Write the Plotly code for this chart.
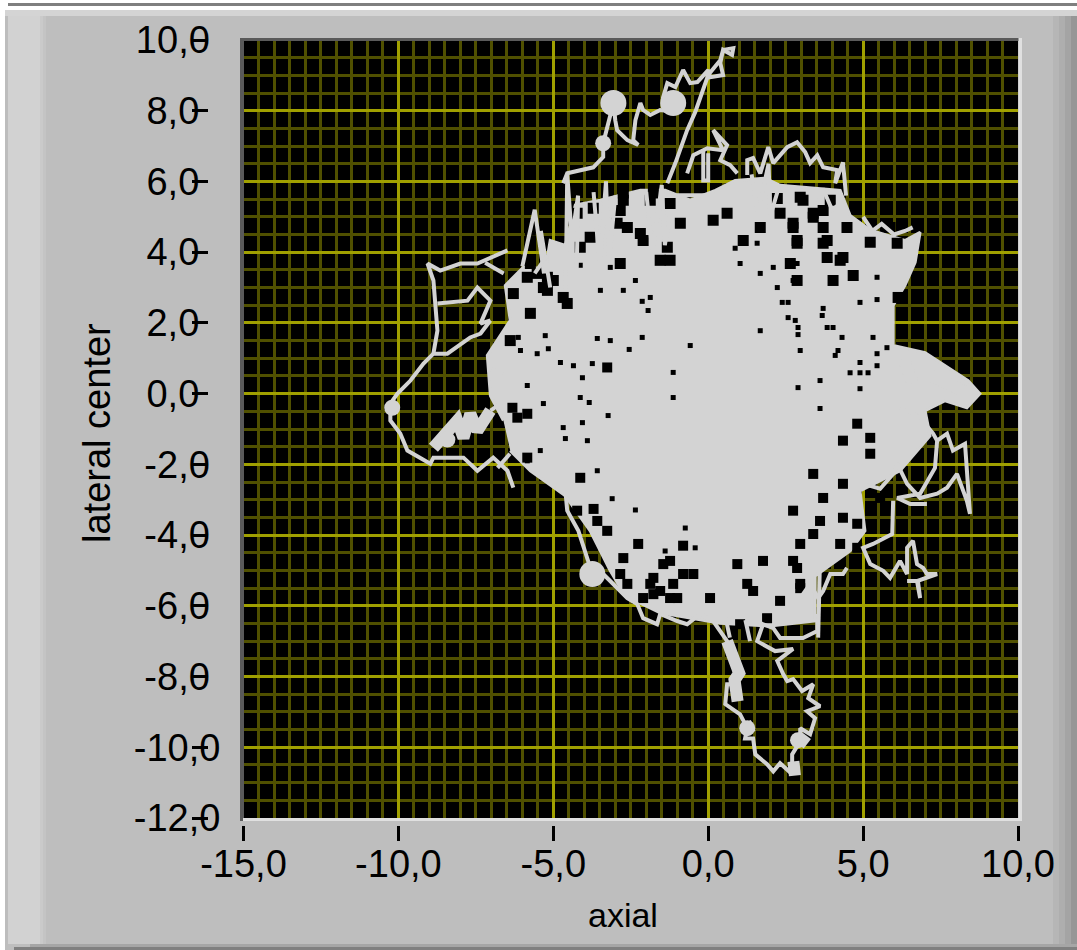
import plotly.graph_objects as go

W, H = 1077, 950

x_tick_vals = [-15, -10, -5, 0, 5, 10]
x_tick_text = ["-15,0", "-10,0", "-5,0", "0,0", "5,0", "10,0"]
y_tick_vals = [10, 8, 6, 4, 2, 0, -2, -4, -6, -8, -10, -12]
NB = "\u00a0"
y_tick_text = ["10,0" + NB, "8,0" + NB + NB, "6,0" + NB + NB, "4,0" + NB + NB, "2,0" + NB + NB, "0,0" + NB + NB,
               "-2,0" + NB, "-4,0" + NB, "-6,0" + NB, "-8,0" + NB, "-10,0", "-12,0"]

# Outline of the region the trace covers almost entirely
cloud_x = [-6.61, -7.03, -7.13, -6.71, -6.39, -6.55, -5.9, -5.26, -5.1, -4.61, -4.29, -3.48, -2.19, -1.39, -0.58, 0.23, 0.87, 1.84,
           2.32, 4.26, 4.58, 5.23, 6.35, 6.84, 6.68, 6.35, 5.97, 5.97, 7.0, 8.39, 8.77, 8.35, 7.65, 7.0, 7.16, 6.19, 5.55, 4.9,
           5.06, 4.58, 3.45, 3.45, 2.0, 0.39, -1.55, -2.68, -3.16, -3.81, -4.61, -5.74, -6.39]
cloud_y = [-0.76, -0.06, 1.08, 1.64, 2.07, 3.06, 3.63, 3.48, 4.33, 4.19, 5.33, 5.47, 5.75, 5.75, 5.47, 5.75, 6.03, 6.09,
           5.89, 5.75, 5.04, 4.62, 4.33, 4.56, 3.71, 3.06, 2.49, 1.36, 1.16, 0.37, 0.0, -0.4, -0.2, -0.48, -1.19, -2.18, -2.46, -2.75,
           -3.88, -4.45, -5.16, -6.43, -6.57, -6.49, -6.2, -5.72, -5.01, -3.88, -2.89, -2.18, -1.61]

# Traced excursions
left_x = [-6.29, -6.48, -6.94, -7.45, -7.9, -8.87, -8.97, -9.71, -9.94, -10.26, -10.26, -10.03, -9.61, -9.19, -8.87,
          -8.42, -7.68, -7.35, -7.03, None, -8.87, -8.74, -8.87, -9.06, -8.65, -8.0, -7.45, -6.48, None, -8.74, -7.77,
          -7.45, -7.03, -7.35, -7.03, None, -7.03, -6.55]
left_y = [-2.66, -2.18, -1.81, -2.18, -1.81, -1.81, -1.98, -1.61, -1.13, -0.76, -0.28, 0.0, 0.37, 0.85, 1.13,
          1.13, 1.59, 1.7, 2.07, None, 1.13, 1.78, 3.2, 3.68, 3.48, 3.68, 3.68, 4.05, None, 2.55, 2.63,
          3.0, 2.63, 1.98, 2.07, None, -0.48, -0.2]

top_x = [-1.32, -1.06, -0.68, -0.42, 0.0, 0.39, 0.48, 0.81, 0.77, 0.48, 0.39, 0.48, 0.06, 0.0, -0.35, -0.58, -0.81,
         -1.06, -1.32, -1.45, -1.13, -0.97, -1.55, -1.87, -2.1, -2.19, -2.35, -2.42, -2.26, -2.61, -2.94, -3.0, -3.06,
         -3.39, -3.39, -3.71, -4.55, -4.68]
top_y = [5.95, 6.52, 7.45, 7.96, 9.01, 9.43, 9.72, 9.77, 9.58, 9.72, 9.35, 9.01, 8.95, 9.15, 8.81, 8.78, 9.15,
         8.67, 8.78, 8.39, 8.22, 7.96, 8.02, 7.88, 8.02, 8.22, 7.73, 7.17, 7.03, 7.17, 7.45, 7.73, 8.22,
         7.08, 6.69, 6.4, 6.23, 5.95]

loop_x = [-0.68, -0.48, -0.03, 0.48, 0.16, 0.61, 0.39, 0.71, 0.94, None, -0.16, -0.16, 0.0, 0.0, None, -1.0, 0.06]
loop_y = [6.23, 6.74, 6.94, 6.88, 7.45, 7.03, 6.6, 6.46, 6.23, None, 6.88, 6.03, 6.03, 6.8, None, 5.61, 5.61]

ridge_x = [1.26, 1.26, 1.45, 1.68, 1.94, 2.1, 2.55, 2.87, 3.13, 3.29, 3.52, 3.71, 4.16, 4.1, 4.35, 4.42, 4.45]
ridge_y = [6.18, 6.6, 6.66, 6.23, 6.97, 6.52, 6.97, 7.11, 6.83, 6.52, 6.74, 6.4, 6.32, 5.95, 6.54, 6.03, 5.6]

lower_right_x = [5.0, 5.0, 5.55, 5.97, 6.1, 6.42, 6.84, 7.39, 7.71, 8.03, 8.35, 8.45, 8.29, 7.9, 7.71, 7.39, 7.32, 6.84,
                 6.1, 6.52, 7.06, None, 6.2, 6.84, 7.26, 7.39, None, 5.97, 5.94, 5.32, 5.0, 5.23, 5.65, 5.87, 6.19, 6.42,
                 6.42, 6.61, 6.74, 6.94, 7.06, 7.39, 6.74, 6.84, 6.77, 6.42, None, 4.48, 4.35, 3.94, 3.71, 3.55, 3.29, 2.97]
lower_right_y = [-1.9, -2.55, -2.69, -2.27, -1.98, -2.55, -2.95, -2.83, -2.66, -2.27, -3.03, -3.4, -1.42, -1.61, -1.13, -1.33, -2.1, -2.83,
                 -2.95, -3.12, -3.12, None, -0.4, -0.68, -1.13, -1.33, None, -3.03, -3.97, -4.25, -4.36, -4.82, -5.01, -5.21, -4.73, -5.1,
                 -4.36, -4.16, -4.82, -4.93, -5.1, -5.1, -5.3, -5.78, -5.3, -5.3, None, -4.93, -5.1, -5.1, -5.58, -5.78, -5.38, -5.78]

spine_x = [-4.61, -4.55, -4.19, -3.97, -3.74, -3.39, -2.94, -2.61, -2.29, -2.1, -1.65, -1.55, -1.0, -0.68, -0.26, 0.16, 0.61, 0.81,
           0.94, 0.61, 0.55, 1.03, 1.26, 1.19, 1.45, 1.52, 1.9, 2.1, 2.32, 2.71, 2.71, 2.97, 2.97, 3.29, 3.45, 3.19, 3.61, 3.23,
           3.39, 3.03, 2.74, 2.55, 2.42, 2.23, 2.74, 2.16, 1.58, 1.77, 2.1, 2.32, 3.06, 3.52, 3.52]
spine_y = [-2.75, -3.31, -3.88, -4.45, -5.1, -5.1, -5.5, -5.78, -5.95, -6.35, -6.52, -6.23, -6.43, -6.52, -6.23, -6.43, -7.0, -7.65,
           -8.22, -8.22, -8.78, -9.07, -9.46, -9.75, -9.75, -10.2, -10.48, -10.68, -10.45, -10.76, -10.2, -9.83, -9.46, -9.63, -9.18, -8.98, -8.84, -8.61,
           -8.22, -8.41, -8.07, -8.13, -7.93, -7.56, -7.22, -7.28, -7.0, -6.52, -6.63, -6.91, -6.91, -6.71, -6.23]

# Spikes that stand out of the covered region
spikes_x = [-6.0, -5.6, -5.3, -5.4, -5.1, None, -4.6, -4.55, -4.4, -4.2, -4.25, None, -3.7, -3.5, -3.3, -3.2, -3.0, None,
            -2.0, -1.8, -1.5, -1.4, -1.2, None, 1.4, 1.6, 1.95, 2.0, 2.3, None, 3.55, 3.7, 4.0, 4.3, None,
            3.6, 3.55, None, 1.2, 1.35, None, 0.55, 0.7, None, 5.0, 5.3, 5.6, 6.0, 6.35, 6.6, None,
            -7.2, -6.6, None, -7.0, -6.6, None, -5.6, -5.2, None, -6.8, -6.4]
spikes_y = [3.6, 5.2, 3.4, 4.6, 3.0, None, 2.9, 6.2, 4.4, 5.6, 3.2, None, 5.7, 3.6, 6.0, 3.7, 5.6, None,
            5.7, 4.0, 5.9, 4.2, 5.2, None, 6.2, 5.1, 6.5, 5.0, 5.9, None, 5.4, 5.8, 5.2, 5.4, None,
            -5.0, -6.9, None, -6.4, -7.0, None, -6.3, -6.9, None, 5.0, 4.6, 4.8, 4.5, 4.6, 4.7, None,
            3.7, 3.4, None, 0.7, 0.6, None, 3.4, 3.9, None, -2.1, -1.7]

# Heavily overplotted stretches
heavy_x = [-8.87, -8.1, -7.9, -7.68, -7.45, -7.03, None, 0.61, 1.0, 0.85, 0.95, None, 1.2, 1.35, None, 2.75, 2.8,
           None, 2.9, 3.2, None, 7.2, 8.3, None, 6.3, 6.6]
heavy_y = [-1.53, -0.76, -1.25, -0.57, -1.05, -0.48, None, -7.0, -7.9, -8.1, -8.7, None, -9.3, -9.6, None, -10.4, -10.8,
           None, -9.7, -9.9, None, 0.5, 0.05, None, 1.0, 0.3]

blob_big_x = [-3.74, -3.06, -1.13]
blob_big_y = [-5.1, 8.22, 8.22]
blob_mid_x = [-3.39, 2.9, 1.26, -10.2, -8.42]
blob_mid_y = [7.08, -9.8, -9.46, -0.4, -1.3]

# Gaps left by the trace in the centre
gap_small_x = [-1.13, -1.13, -2.13, -2.55, -3.74, -4.35, -4.77, -5.52, -4.06, -3.84, -4.13, -4.06, -3.23, -3.9, -4.61, -4.68, -5.32, -5.84,
               -5.42, -5.84, -3.58, -5.16, -5.26, -6.13, -6.06, -3.58, -3.16, -1.94, -2.35, -1.87, -2.13, -2.74, -3.16, -3.48, -4.13,
               3.71, 3.68, 2.9, 2.9, 2.58, 3.84, 4.03, 4.32, 4.9, 5.45, 5.45, 2.39, 2.58, 5.32, 5.77, 4.19, 4.1, 5.45, 4.9, 4.9, 4.58,
               5.16, 5.45, 3.61, 2.9, 3.61, 4.9, 2.23, 2.74, 1.03, 1.68, 2.1, 2.87, 0.87, 1.58, 1.68, -0.58, 2.81, 2.97,
               -3.1, -2.35, -0.74, -0.42, -1.39]
gap_small_y = [0.6, -0.11, 1.59, 1.25, 0.85, 0.79, 0.88, 1.13, 0.45, -0.25, -0.11, -0.82, -0.62, -1.33, -1.27, -0.96, -0.28, 0.23,
               -1.61, -1.9, -2.18, 1.27, 1.64, 1.59, 1.22, 1.56, 1.5, 2.35, 3.2, 2.72, 2.61, 2.92, 3.57, 2.92, 3.63,
               2.41, 2.21, 1.87, 1.67, 2.15, 1.87, 1.87, 1.59, 2.58, 2.66, 3.29, 2.58, 2.58, 1.59, 1.3, 1.22, 1.08, 1.13, 0.88, 0.59, 0.59,
               0.59, 0.79, 0.37, 0.17, -0.42, 0.14, 3.0, 3.2, 3.68, 3.4, 3.57, 3.68, 4.11, 4.25, 1.78, 1.36, 2.07, 1.22,
               -2.97, -3.29, -3.8, -4.36, -4.45]

# Wider gaps in the fringe
gap_top_x = [-3.71, -4.23, -2.74, -1.87, -2.19, -1.23, -1.32, -3.81, -2.94, 2.23, 3.06, 3.71, 2.74, 3.39, 3.84, 4.48, 2.87, 4.35, 3.84, 2.32,
             1.13, 1.68, 0.61, 0.16, -4.45, -4.13, -2.84, -1.55, -1.23, -4.23, -2.84, -2.61, -2.1, -0.9, -1.77, -2.74,
             -5.74, -5.74, -5.19, -5.19, -5.84, -4.68, -5.32, -6.29, -5.74, -5.0, -5.52, -4.55, -6.39, -5.97,
             2.74, 3.71, 4.26, 4.68, 2.65, 2.87, 3.71, 5.23, 6.1, 5.87, 3.39, 2.97, 3.94, 4.03, 2.87, 6.13]
gap_top_y = [5.24, 5.75, 5.47, 5.47, 4.53, 5.38, 4.14, 4.42, 4.82, 5.52, 5.47, 5.18, 4.82, 4.99, 4.33, 4.7, 4.25, 3.85, 3.85, 5.1,
             4.33, 4.7, 5.1, 4.9, 4.9, 4.14, 3.68, 3.77, 3.77, 5.1, 5.18, 4.7, 4.33, 4.82, 5.67, 5.67,
             4.62, 3.68, 3.29, 2.92, 3.29, 2.72, 3.0, 2.83, 2.27, 3.2, 3.4, 2.55, 1.5, 3.77,
             4.7, 4.7, 3.77, 3.34, 3.68, 4.33, 4.25, 4.28, 4.25, 4.7, 5.1, 5.55, 5.47, 3.2, 3.2, 2.72]
gap_bottom_x = [-5.84, -5.84, -6.16, -6.32, 3.39, 4.35, 4.81, 5.23, 5.23, 4.35, 5.55, 4.81, 4.35, 3.71, 2.74, 3.39, 4.81, 4.26, 2.97, 3.61,
                2.97, 2.87, -1.23, -0.81, -1.55, -2.1, -1.0, 0.06, 0.94, 1.26, 1.77, 1.45, 2.74, 2.97, 1.9, 2.32, 1.03, -2.61, -1.87,
                -4.23, -2.26, -2.74, -1.77, -1.23, -1.77, -0.48, -1.45, -2.84, -1.13, -3.26, -3.58, -3.26, -4.13, -3.7, -0.81]
gap_bottom_y = [-0.57, -1.81, -0.68, -0.4, -2.27, -2.55, -0.85, -1.7, -1.25, -1.33, -2.95, -3.68, -3.51, -2.95, -3.31, -3.97, -4.36, -4.25, -4.25, -3.6,
                -5.5, -4.93, -4.73, -5.1, -5.58, -5.78, -5.78, -5.78, -4.82, -5.38, -4.73, -5.58, -4.73, -5.38, -6.35, -5.86, -6.52, -5.38, -5.38,
                -3.31, -4.25, -4.65, -5.21, -5.78, -5.67, -5.1, -4.82, -5.1, -5.38, -3.88, -3.6, 0.74, -2.38, -3.26, -4.3]

CLOUD = "#d3d3d3"
fig = go.Figure()


def stroke(xs, ys, name, width=4):
    fig.add_trace(go.Scatter(x=xs, y=ys, mode="lines", name=name, line=dict(color=CLOUD, width=width),
                             hoverinfo="skip", showlegend=False, connectgaps=False))


fig.add_trace(go.Scatter(x=cloud_x, y=cloud_y, mode="lines", fill="toself", fillcolor=CLOUD, name="cloud",
                         line=dict(color=CLOUD, width=3), hoverinfo="skip", showlegend=False))
fig.add_trace(go.Scatter(x=gap_top_x, y=gap_top_y, mode="markers", marker=dict(color="black", size=11, symbol="square"), hoverinfo="skip", showlegend=False))
fig.add_trace(go.Scatter(x=gap_bottom_x, y=gap_bottom_y, mode="markers", marker=dict(color="black", size=10, symbol="square"), hoverinfo="skip", showlegend=False))
fig.add_trace(go.Scatter(x=gap_small_x, y=gap_small_y, mode="markers", marker=dict(color="black", size=5, symbol="square"), hoverinfo="skip", showlegend=False))
for xs, ys, nm in [(left_x, left_y, "left"), (top_x, top_y, "top"), (loop_x, loop_y, "loop"), (ridge_x, ridge_y, "ridge"),
                   (lower_right_x, lower_right_y, "lower right"), (spine_x, spine_y, "spine"), (spikes_x, spikes_y, "spikes")]:
    stroke(xs, ys, nm, 4)
stroke(heavy_x, heavy_y, "heavy", 12)
fig.add_trace(go.Scatter(x=blob_big_x, y=blob_big_y, mode="markers", marker=dict(color=CLOUD, size=26), hoverinfo="skip", showlegend=False))
fig.add_trace(go.Scatter(x=blob_mid_x, y=blob_mid_y, mode="markers", marker=dict(color=CLOUD, size=16), hoverinfo="skip", showlegend=False))


def rect(x0, y0, x1, y1, color, layer="below"):
    return dict(type="rect", xref="paper", yref="paper", x0=x0 / W, x1=x1 / W, y0=1 - y0 / H, y1=1 - y1 / H,
                fillcolor=color, line_width=0, layer=layer)


shapes = [
    rect(0, 0, W, 10, "#ffffff"),
    rect(8, 3, W, 6, "#7f7f7f"),
    rect(0, 10, 5, H, "#ffffff"),
    rect(5, 10, W, 16, "#d4d4d4"),
    rect(5, 16, 8, H, "#bdbdbd"),
    rect(8, 16, 40, 944, "#d2d2d2"),
    rect(40, 16, 43, 944, "#cacaca"),
    rect(43, 16, 46, 944, "#c4c4c4"),
    rect(1053, 16, 1059, 944, "#b6b6b6"),
    rect(1059, 16, 1065, 944, "#aeaeae"),
    rect(1065, 16, 1071, 944, "#a4a4a4"),
    rect(1071, 16, W, 944, "#969696"),
    rect(30, 944, W, 947, "#a6a6a6"),
    rect(14, 947, W, H, "#808080"),
    rect(240, 38, 244, 821, "#5a5a5a", "above"),
    rect(240, 38, 1022, 41, "#5a5a5a", "above"),
    rect(1018.5, 38, 1022, 821, "#e0e0e0", "above"),
    rect(243, 818, 1022, 821, "#e0e0e0", "above"),
]

LABEL = dict(family="Liberation Sans", size=38, color="black")
fig.update_layout(
    width=W, height=H, margin=dict(l=0, r=0, t=0, b=0, pad=0), autosize=False,
    paper_bgcolor="#bebebe", plot_bgcolor="black", showlegend=False, shapes=shapes,
    xaxis=dict(domain=[243.5 / W, 1018 / W], range=[-15, 10], anchor="free", position=1 - 825 / H, automargin=False,
               tickmode="array", tickvals=x_tick_vals, ticktext=x_tick_text, ticks="outside", ticklen=15, tickwidth=3,
               tickcolor="black", tickfont=LABEL, ticklabelstandoff=-10, showline=False, zeroline=False, showgrid=True,
               gridcolor="#a0a000", gridwidth=3,
               minor=dict(dtick=0.5, tick0=0, showgrid=True, gridcolor="#505000", gridwidth=3, ticks=""),
               layer="below traces", fixedrange=True),
    yaxis=dict(domain=[1 - 818 / H, 1 - 40 / H], range=[-12, 10], anchor="free", position=208 / W, automargin=False,
               tickmode="array", tickvals=y_tick_vals, ticktext=y_tick_text, ticks="outside", ticklen=16, tickwidth=3,
               tickcolor="black", tickfont=LABEL, ticklabelstandoff=-36, showline=False, zeroline=False, showgrid=True,
               gridcolor="#a0a000", gridwidth=3,
               minor=dict(dtick=0.5, tick0=0, showgrid=True, gridcolor="#505000", gridwidth=3, ticks=""),
               layer="below traces", fixedrange=True),
    annotations=[
        dict(text="axial", xref="paper", yref="paper", x=623 / W, y=1 - 915 / H, showarrow=False,
             font=dict(family="Liberation Sans", size=34, color="black"), xanchor="center", yanchor="middle"),
        dict(text="lateral center", xref="paper", yref="paper", x=97 / W, y=1 - 433 / H, showarrow=False, textangle=-90,
             font=dict(family="Liberation Sans", size=38, color="black"), xanchor="center", yanchor="middle"),
    ],
)
fig.write_html("out.html", config=dict(displayModeBar=False),
               post_script="document.body.style.margin='0';document.body.style.overflow='hidden';")
